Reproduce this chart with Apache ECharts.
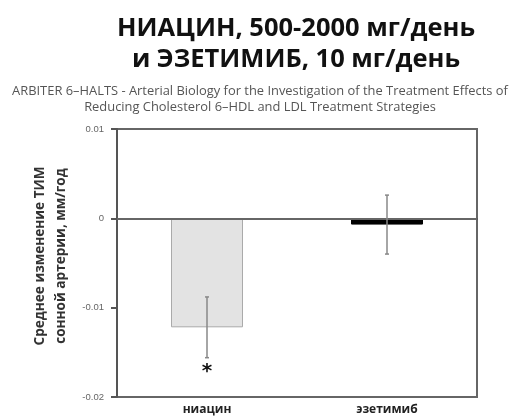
<!DOCTYPE html>
<html>
<head>
<meta charset="utf-8">
<script src="https://cdn.jsdelivr.net/npm/echarts@6/dist/echarts.min.js"></script>
<style>
html, body { margin: 0; padding: 0; background: #fff; }
#chart { width: 519px; height: 418px; }
</style>
</head>
<body>
<div id="chart"></div>
<script>
// values
let groups = ['ниацин', 'эзетимиб'];
let means = [-0.0122, -0.0007];
let errors = [0.0034, 0.0033];
let barColors = ['#e3e3e3', '#000000'];
let signif = ['*', ''];
let yTicks = [-0.02, -0.01, 0, 0.01];

let myChart = echarts.init(document.getElementById('chart'));

let errData = groups.map(function(g, i) {
	return [i, means[i] - errors[i], means[i] + errors[i], signif[i]];
});

let option = {
	animation: false,
	title: [{
		text: 'НИАЦИН, 500-2000 мг/день\nи ЭЗЕТИМИБ, 10 мг/день',
		left: 291,
		top: 8,
		textAlign: 'center',
		textStyle: {
			fontFamily: 'Open Sans',
			fontWeight: 'bold',
			fontSize: 25.5,
			lineHeight: 31,
			color: '#111'
		}
	}, {
		text: 'ARBITER 6–HALTS - Arterial Biology for the Investigation of the Treatment Effects of\nReducing Cholesterol 6–HDL and LDL Treatment Strategies',
		left: 255,
		top: 78,
		textAlign: 'center',
		textStyle: {
			fontFamily: 'Open Sans',
			fontWeight: 'normal',
			fontSize: 12.9,
			lineHeight: 16,
			color: '#555'
		}
	}],
	graphic: [{
		type: 'text',
		x: 51,
		y: 256,
		rotation: Math.PI / 2,
		style: {
			text: 'Среднее изменение ТИМ\nсонной артерии, мм/год',
			font: 'bold 13.6px "Open Sans"',
			lineHeight: 21,
			fill: '#333',
			align: 'center',
			verticalAlign: 'middle'
		}
	}],
	grid: {
		left: 117,
		right: 42,
		top: 129,
		bottom: 21,
		show: true,
		borderColor: '#666',
		borderWidth: 2
	},
	xAxis: {
		type: 'category',
		data: groups,
		axisLine: { show: true, lineStyle: { color: '#555', width: 2 } },
		axisTick: { show: false },
		axisLabel: {
			margin: 7,
			fontFamily: 'Open Sans',
			fontWeight: 'bold',
			fontSize: 12,
			color: '#222'
		}
	},
	yAxis: {
		type: 'value',
		min: yTicks[0],
		max: yTicks[yTicks.length - 1],
		interval: 0.01,
		splitLine: { show: false },
		axisLine: { show: true, lineStyle: { color: '#555', width: 2 } },
		axisTick: { show: true, length: 6, lineStyle: { color: '#555', width: 2 } },
		axisLabel: {
			margin: 13,
			fontFamily: 'Liberation Sans',
			fontSize: 9.5,
			color: '#666',
			formatter: function(v) { return String(Math.round(v * 100) / 100); }
		}
	},
	series: [{
		type: 'bar',
		barWidth: '40%',
		data: means.map(function(v, i) {
			return {
				value: v,
				itemStyle: {
					color: barColors[i],
					borderColor: i === 0 ? '#aaa' : '#000',
					borderWidth: 1
				}
			};
		}),
		markLine: {
			silent: true,
			symbol: 'none',
			label: { show: false },
			lineStyle: { color: '#666', width: 2, type: 'solid' },
			data: [{ yAxis: 0 }]
		}
	}, {
		type: 'custom',
		data: errData,
		z: 5,
		renderItem: function(params, api) {
			let lo = api.coord([api.value(0), api.value(1)]);
			let hi = api.coord([api.value(0), api.value(2)]);
			let cap = 2;
			let children = [{
				type: 'line',
				shape: { x1: hi[0], y1: hi[1], x2: lo[0], y2: lo[1] },
				style: { stroke: '#888', lineWidth: 1.5 }
			}, {
				type: 'line',
				shape: { x1: hi[0] - cap, y1: hi[1], x2: hi[0] + cap, y2: hi[1] },
				style: { stroke: '#888', lineWidth: 1.5 }
			}, {
				type: 'line',
				shape: { x1: lo[0] - cap, y1: lo[1], x2: lo[0] + cap, y2: lo[1] },
				style: { stroke: '#888', lineWidth: 1.5 }
			}];
			let mark = errData[params.dataIndex][3];
			if (mark) {
				children.push({
					type: 'text',
					x: lo[0],
					y: lo[1] + 14,
					style: {
						text: mark,
						font: 'bold 20px "DejaVu Sans"',
						fill: '#111',
						align: 'center',
						verticalAlign: 'middle'
					}
				});
			}
			return { type: 'group', children: children };
		}
	}]
};
myChart.setOption(option);
</script>
</body>
</html>
